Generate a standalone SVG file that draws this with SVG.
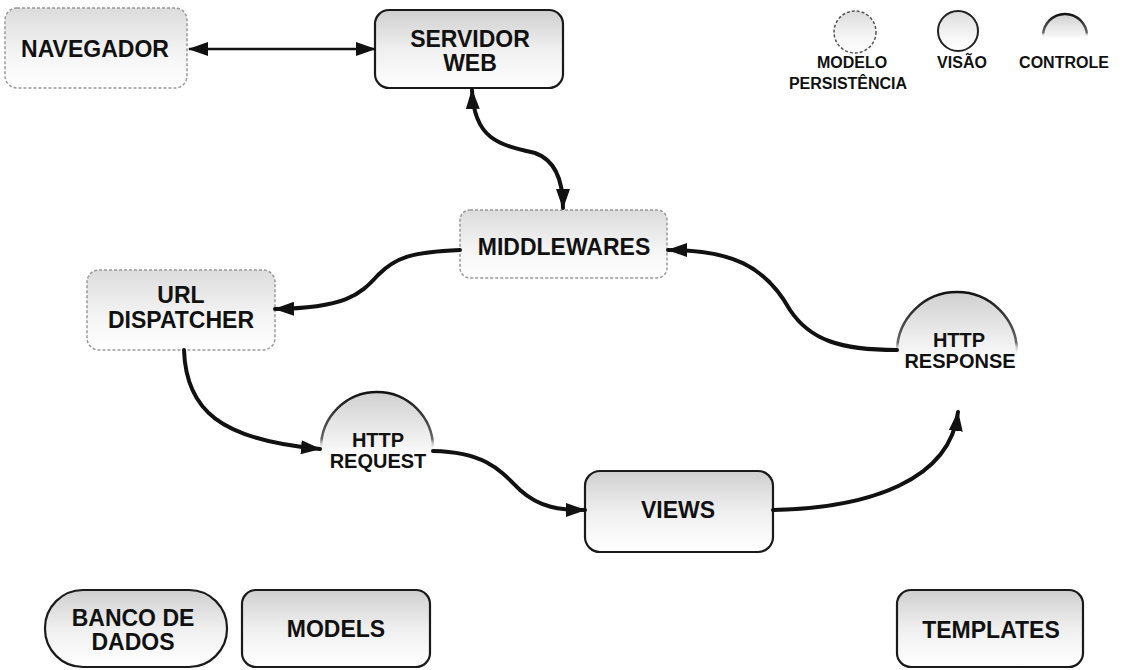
<svg xmlns="http://www.w3.org/2000/svg" width="1121" height="670" viewBox="0 0 1121 670">
  <defs>
    <linearGradient id="boxFill" x1="0" y1="0" x2="0" y2="1">
      <stop offset="0" stop-color="#cfcfcf"/>
      <stop offset="0.5" stop-color="#efefef"/>
      <stop offset="1" stop-color="#ffffff"/>
    </linearGradient>
    <linearGradient id="faintFill" x1="0" y1="0" x2="0" y2="1">
      <stop offset="0" stop-color="#dcdcdc"/>
      <stop offset="0.6" stop-color="#f5f5f5"/>
      <stop offset="1" stop-color="#ffffff"/>
    </linearGradient>
    <linearGradient id="domeFill" x1="0" y1="0" x2="0" y2="1">
      <stop offset="0" stop-color="#d0d0d0"/>
      <stop offset="0.5" stop-color="#f6f6f6"/>
      <stop offset="0.6" stop-color="#ffffff" stop-opacity="0"/>
    </linearGradient>
    <linearGradient id="domeStroke" x1="0" y1="0" x2="0" y2="1">
      <stop offset="0" stop-color="#111"/>
      <stop offset="0.42" stop-color="#666"/>
      <stop offset="0.52" stop-color="#fff" stop-opacity="0"/>
    </linearGradient>
    <marker id="ah" viewBox="0 0 20 14" refX="19" refY="7" markerWidth="20" markerHeight="14" markerUnits="userSpaceOnUse" orient="auto-start-reverse">
      <path d="M0,0 L20,7 L0,14 z" fill="#111"/>
    </marker>
    <style>
      .box { fill: url(#boxFill); stroke: #1a1a1a; stroke-width: 2.2; }
      .faint { fill: url(#faintFill); stroke: #999; stroke-width: 1.5; stroke-dasharray: 3 2; }
      .dome { fill: url(#domeFill); stroke: url(#domeStroke); stroke-width: 2.5; }
      .lbl { font-family: "Liberation Sans", Arial, sans-serif; font-weight: bold; font-size: 23px; fill: #111; text-anchor: middle; }
      .lbl2 { font-family: "Liberation Sans", Arial, sans-serif; font-weight: bold; font-size: 20px; fill: #111; text-anchor: middle; }
      .leg { font-family: "Liberation Sans", Arial, sans-serif; font-weight: bold; font-size: 16px; fill: #111; text-anchor: middle; }
      .conn { fill: none; stroke: #111; stroke-width: 4; stroke-linecap: round; }
      .thin { fill: none; stroke: #111; stroke-width: 2.5; }
    </style>
  </defs>

  <g id="navegador">
    <rect class="faint" x="5" y="8" width="182" height="80" rx="12"/>
    <text class="lbl" x="95" y="57">NAVEGADOR</text>
  </g>

  <g id="servidor-web">
    <rect class="box" x="375" y="10" width="188" height="78" rx="14"/>
    <text class="lbl" x="470" y="47">SERVIDOR</text>
    <text class="lbl" x="470" y="71">WEB</text>
  </g>

  <g id="middlewares">
    <rect class="faint" x="460" y="210" width="207" height="68" rx="10"/>
    <text class="lbl" x="564" y="255">MIDDLEWARES</text>
  </g>

  <g id="url-dispatcher">
    <rect class="faint" x="87" y="270" width="188" height="80" rx="12"/>
    <text class="lbl" x="181" y="303">URL</text>
    <text class="lbl" x="181" y="328">DISPATCHER</text>
  </g>

  <g id="http-request">
    <circle class="dome" cx="377" cy="448" r="56"/>
    <text class="lbl2" x="378" y="447">HTTP</text>
    <text class="lbl2" x="378" y="468">REQUEST</text>
  </g>

  <g id="views">
    <rect class="box" x="585" y="471" width="188" height="81" rx="15"/>
    <text class="lbl" x="678" y="518">VIEWS</text>
  </g>

  <g id="http-response">
    <circle class="dome" cx="957" cy="352" r="60"/>
    <text class="lbl2" x="959" y="347">HTTP</text>
    <text class="lbl2" x="960" y="368">RESPONSE</text>
  </g>

  <g id="banco-de-dados">
    <rect class="box" x="45" y="590" width="182" height="77" rx="38"/>
    <text class="lbl" x="133" y="626">BANCO DE</text>
    <text class="lbl" x="133" y="650">DADOS</text>
  </g>

  <g id="models">
    <rect class="box" x="242" y="590" width="188" height="77" rx="14"/>
    <text class="lbl" x="336" y="637">MODELS</text>
  </g>

  <g id="templates">
    <rect class="box" x="897" y="590" width="186" height="77" rx="14"/>
    <text class="lbl" x="991" y="638">TEMPLATES</text>
  </g>

  <g id="legend">
    <circle cx="855" cy="32" r="21" fill="url(#faintFill)" stroke="#555" stroke-width="1.5" stroke-dasharray="3 2"/>
    <circle cx="958" cy="31" r="20" fill="url(#faintFill)" stroke="#222" stroke-width="2"/>
    <circle class="dome" cx="1065" cy="36" r="22"/>
    <text class="leg" x="852" y="68">MODELO</text>
    <text class="leg" x="848" y="89">PERSISTÊNCIA</text>
    <text class="leg" x="962" y="68">VISÃO</text>
    <text class="leg" x="1064" y="68">CONTROLE</text>
  </g>

  <g id="connectors">
    <path class="thin" d="M189,49 L375,49" marker-start="url(#ah)" marker-end="url(#ah)"/>
    <path class="conn" d="M472,90 C474,140 500,145 535,153 C555,160 563,180 563,208" marker-start="url(#ah)" marker-end="url(#ah)"/>
    <path class="conn" d="M460,250 C410,252 395,258 378,275 C360,295 345,308 275,309" marker-end="url(#ah)"/>
    <path class="conn" d="M184,350 C186,410 220,440 320,449" marker-end="url(#ah)"/>
    <path class="conn" d="M433,451 C485,452 500,470 520,490 C540,508 560,510 585,510" marker-end="url(#ah)"/>
    <path class="conn" d="M773,510 C870,508 950,480 958,412" marker-end="url(#ah)"/>
    <path class="conn" d="M897,350 C840,350 810,340 790,310 C765,265 730,250 668,250" marker-end="url(#ah)"/>
  </g>
</svg>
